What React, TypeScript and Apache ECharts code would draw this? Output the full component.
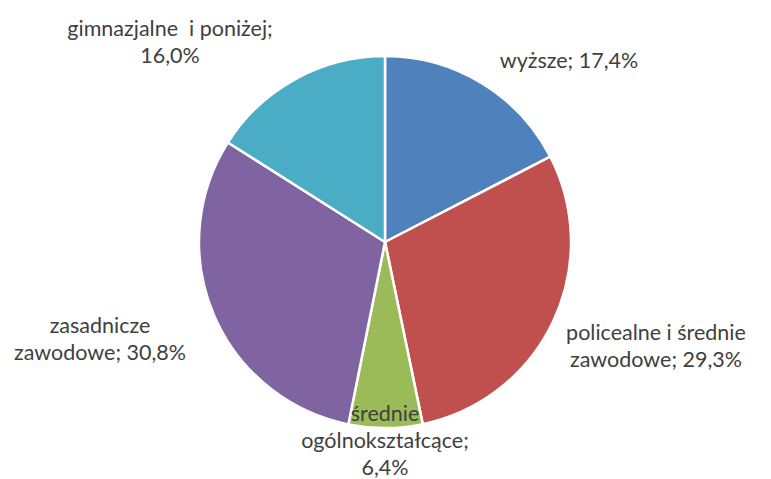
import React, { useEffect, useRef } from "react";
import * as echarts from "echarts";

const categories = [
  "wyższe",
  "policealne i średnie zawodowe",
  "średnie ogólnokształcące",
  "zasadnicze zawodowe",
  "gimnazjalne  i poniżej",
];
const values = [17.4, 29.3, 6.4, 30.8, 16.0];
const colors = ["#4F81BD", "#C0504D", "#9BBB59", "#8064A2", "#4BACC6"];

// label text with line breaks (display only)
const labelLines: string[][] = [
  ["wyższe; {v}"],
  ["policealne i średnie", "zawodowe; {v}"],
  ["średnie", "ogólnokształcące;", "{v}"],
  ["zasadnicze", "zawodowe; {v}"],
  ["gimnazjalne  i poniżej;", "{v}"],
];
// label anchor positions (layout)
const labelPos: [number, number][] = [
  [569, 60],
  [656, 345],
  [385, 440],
  [100, 338],
  [170, 41],
];

const fmt = (v: number) => v.toFixed(1).replace(".", ",") + "%";

export default function App() {
  const ref = useRef<HTMLDivElement>(null);
  useEffect(() => {
    if (!ref.current) return;
    const chart = echarts.init(ref.current, undefined, { renderer: "svg" });
    chart.setOption({
      animation: false,
      backgroundColor: "#ffffff",
      series: [
        {
          type: "pie",
          center: [385, 242],
          radius: 186,
          startAngle: 90,
          clockwise: true,
          data: categories.map((c, i) => ({
            name: c,
            value: values[i],
            itemStyle: { color: colors[i] },
          })),
          itemStyle: { borderColor: "#ffffff", borderWidth: 2.5 },
          label: {
            show: true,
            position: "inside",
            overflow: "none",
            fontFamily: "Lato, 'Open Sans', sans-serif",
            fontSize: 21.5,
            lineHeight: 27,
            color: "#404040",
            align: "center",
            formatter: (p: any) =>
              labelLines[p.dataIndex].map((l) => l.replace("{v}", fmt(p.value))).join("\n"),
          },
          labelLine: { show: false },
          labelLayout: (p: any) => ({
            x: labelPos[p.dataIndex][0],
            y: labelPos[p.dataIndex][1],
            align: "center",
            verticalAlign: "middle",
          }),
          emphasis: { disabled: true },
        },
      ],
    });
    return () => chart.dispose();
  }, []);
  return (
    <div
      ref={ref}
      style={{ position: "absolute", left: 0, top: 0, width: 771, height: 479 }}
    />
  );
}
